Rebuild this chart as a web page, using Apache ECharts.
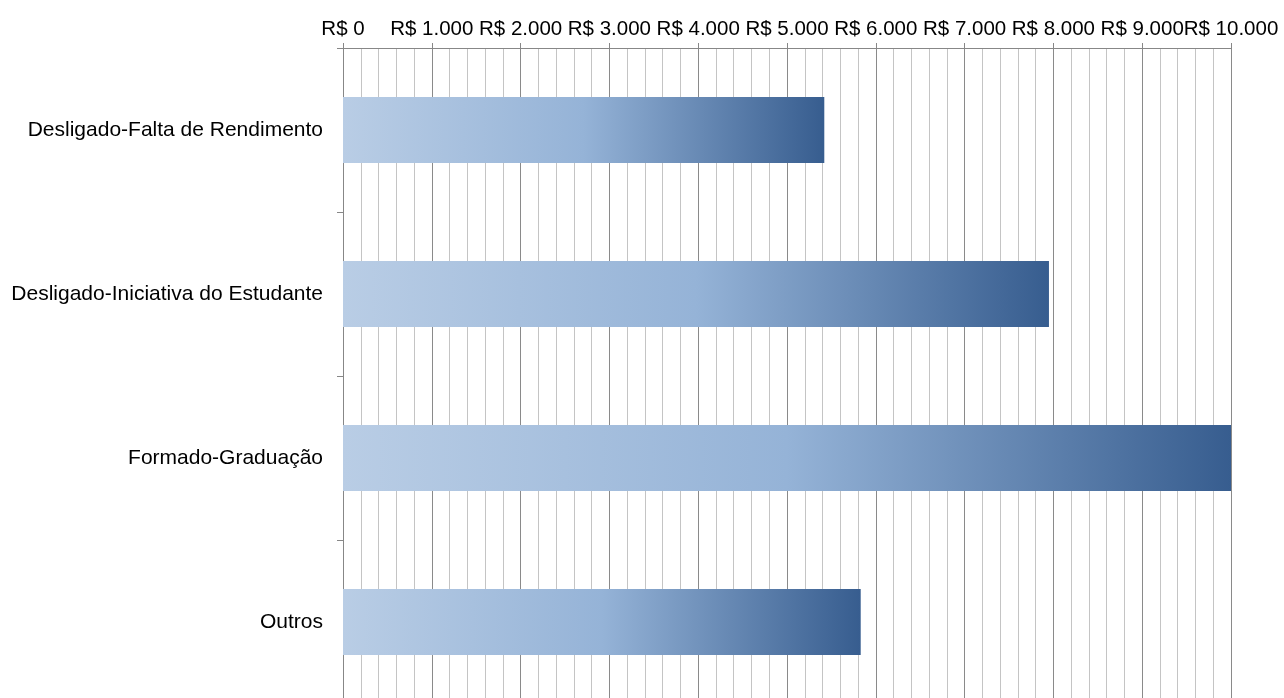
<!DOCTYPE html>
<html>
<head>
<meta charset="utf-8">
<script src="https://cdn.jsdelivr.net/npm/echarts@6/dist/echarts.min.js"></script>
<style>html,body{margin:0;padding:0;background:#fff;overflow:hidden;}#c{width:1284px;height:712px;}</style>
</head>
<body>
<div id="c"></div>
<script>
var categories = ["Desligado-Falta de Rendimento", "Desligado-Iniciativa do Estudante", "Formado-Graduação", "Outros"];
var values = [5420, 7950, 10000, 5830];
var tickMin = 0, tickMax = 10000, tickStep = 1000;

var chart = echarts.init(document.getElementById('c'));
function fmt(v) {
  return 'R$ ' + String(v).replace(/\B(?=(\d{3})+(?!\d))/g, '.');
}
chart.setOption({
  animation: false,
  grid: { left: 343, right: 53, top: 48, height: 656, containLabel: false },
  xAxis: {
    type: 'value', position: 'top', min: tickMin, max: tickMax, interval: tickStep,
    axisLine: { show: true, lineStyle: { color: '#878787', width: 1 } },
    axisTick: { show: true, length: 5, lineStyle: { color: '#878787' } },
    axisLabel: { formatter: fmt, color: '#000', fontFamily: 'Liberation Sans, Arial', fontSize: 20.5, margin: 8 },
    splitLine: { show: true, lineStyle: { color: '#8a8a8a', width: 1 } },
    minorTick: { show: false, splitNumber: 5 },
    minorSplitLine: { show: true, lineStyle: { color: '#c4c4c4', width: 1 } }
  },
  yAxis: {
    type: 'category', data: categories, inverse: true,
    axisLine: { show: true, lineStyle: { color: '#878787', width: 1 } },
    axisTick: { show: true, length: 6, lineStyle: { color: '#878787' } },
    axisLabel: { color: '#000', fontFamily: 'Liberation Sans, Arial', fontSize: 21, margin: 20 },
    splitLine: { show: false }
  },
  series: [{
    type: 'bar', data: values, barWidth: 66,
    itemStyle: {
      color: {
        type: 'linear', x: 0, y: 0, x2: 1, y2: 0,
        colorStops: [
          { offset: 0, color: '#b9cde5' },
          { offset: 0.5, color: '#95b3d7' },
          { offset: 1, color: '#375d8f' }
        ]
      }
    }
  }]
});
</script>
</body>
</html>
